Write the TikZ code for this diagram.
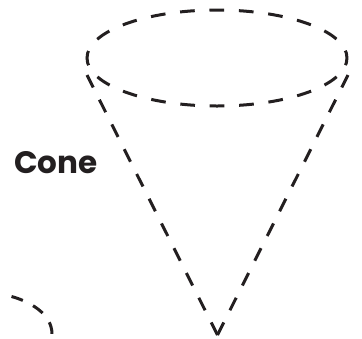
\documentclass[tikz,border=0pt]{standalone}
\usepackage{fontspec}
\setmainfont{Poppins}
\definecolor{inkdark}{HTML}{231F20}
\tikzset{coneline/.style={inkdark, line width=3pt, dash pattern=on 14pt off 13.7pt}}
\begin{document}
\begin{tikzpicture}[x=1pt, y=-1pt]
\path (0,0) rectangle (362,338);
% rim
\draw[inkdark, line width=3pt, dash pattern=on 14.7pt off 14.75pt, dash phase=7.35pt] (217,58) ellipse (130 and 48);
\coordinate (tip) at (217.5,335);
\coordinate (leftrim) at (87,75);
\coordinate (rightrim) at (348,75);
\draw[coneline] (tip) -- (leftrim);
\draw[coneline] (tip) -- (rightrim);
% arc at lower left
\draw[inkdark, line width=3pt, dash pattern=on 12pt off 11.5pt] (11.5,296.5) .. controls (28,301) and (52,313) .. (52,334);
\node[font=\bfseries\fontsize{31}{34}\selectfont, text=inkdark, inner sep=0pt] (label) at (56,163) {Cone};
\end{tikzpicture}
\end{document}
